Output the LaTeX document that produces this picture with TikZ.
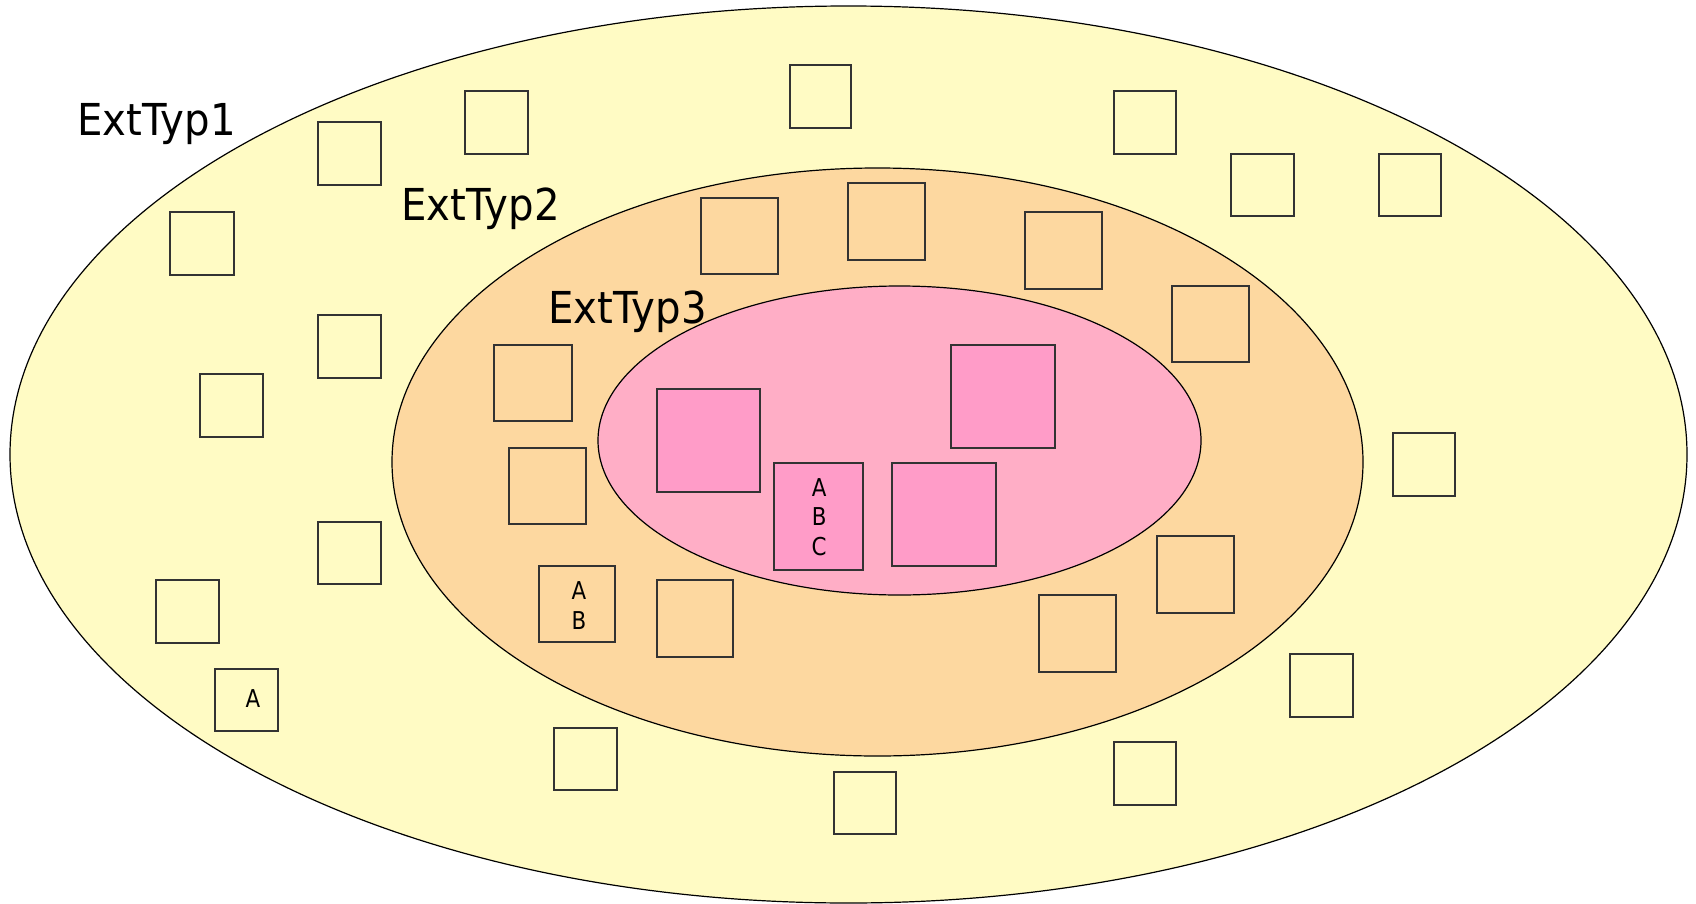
\documentclass[tikz,border=0pt]{standalone}
\usepackage{fontspec}
\setmainfont{DejaVu Sans}
\usetikzlibrary{shapes.geometric,fit}
\definecolor{ring1}{HTML}{FFFBC4}
\definecolor{ring2}{HTML}{FDD8A0}
\definecolor{ring3}{HTML}{FFAEC6}
\definecolor{pinkbox}{HTML}{FF9CC8}
\definecolor{boxline}{HTML}{333333}
\tikzset{
  zone/.style={ellipse, draw=black, line width=0.6pt, inner sep=0pt, outer sep=0pt},
  zonelabel/.style={anchor=base west, inner sep=0pt, font=\fontsize{22}{26}\selectfont},
  plainbox/.style={draw=boxline, line width=0.75pt, inner sep=0pt, outer sep=0pt},
  pinkfill/.style={plainbox, fill=pinkbox},
  boxtext/.style={inner sep=0pt, align=center, font=\fontsize{12.3}{14.75}\selectfont}
}
\newcommand{\sq}[1]{\scalebox{0.87}[1]{#1}}
\newcommand{\sqw}[1]{\scalebox{0.915}[1]{#1}}
\begin{document}
\begin{tikzpicture}[x=0.5pt, y=-0.5pt]
\useasboundingbox (0,0) rectangle (1696,904);
% zones
\node[zone, fill=ring1, minimum width=838.5pt, minimum height=448.5pt] (outer) at (848.5,454.5) {};
\node[zone, fill=ring2, minimum width=485.5pt, minimum height=294pt] (middle) at (877.5,462) {};
\node[zone, fill=ring3, minimum width=301.5pt, minimum height=154.5pt] (inner) at (899.5,440.5) {};
% labels
\node[zonelabel] (l1) at (77,135) {\sqw{ExtTyp1}};
\node[zonelabel] (l2) at (401,220) {\sqw{ExtTyp2}};
\node[zonelabel] (l3) at (548,323) {\sqw{ExtTyp3}};
% boxes
\node[plainbox, fit={(790,65) (851,128)}] (b1) {};
\node[plainbox, fit={(465,91) (528,154)}] (b2) {};
\node[plainbox, fit={(1114,91) (1176,154)}] (b3) {};
\node[plainbox, fit={(318,122) (381,185)}] (b4) {};
\node[plainbox, fit={(1231,154) (1294,216)}] (b5) {};
\node[plainbox, fit={(1379,154) (1441,216)}] (b6) {};
\node[plainbox, fit={(170,212) (234,275)}] (b7) {};
\node[plainbox, fit={(701,198) (778,274)}] (b8) {};
\node[plainbox, fit={(848,183) (925,260)}] (b9) {};
\node[plainbox, fit={(1025,212) (1102,289)}] (b10) {};
\node[plainbox, fit={(1172,286) (1249,362)}] (b11) {};
\node[plainbox, fit={(318,315) (381,378)}] (b12) {};
\node[plainbox, fit={(494,345) (572,421)}] (b13) {};
\node[plainbox, fit={(200,374) (263,437)}] (b14) {};
\node[pinkfill, fit={(657,389) (760,492)}] (b15) {};
\node[pinkfill, fit={(951,345) (1055,448)}] (b16) {};
\node[plainbox, fit={(1393,433) (1455,496)}] (b17) {};
\node[plainbox, fit={(509,448) (586,524)}] (b18) {};
\node[pinkfill, fit={(774,463) (863,570)}] (b19) {};
\node[pinkfill, fit={(892,463) (996,566)}] (b20) {};
\node[plainbox, fit={(318,522) (381,584)}] (b21) {};
\node[plainbox, fit={(1157,536) (1234,613)}] (b22) {};
\node[plainbox, fit={(539,566) (615,642)}] (b23) {};
\node[plainbox, fit={(156,580) (219,643)}] (b24) {};
\node[plainbox, fit={(657,580) (733,657)}] (b25) {};
\node[plainbox, fit={(1039,595) (1116,672)}] (b26) {};
\node[plainbox, fit={(215,669) (278,731)}] (b27) {};
\node[plainbox, fit={(1290,654) (1353,717)}] (b28) {};
\node[plainbox, fit={(554,728) (617,790)}] (b29) {};
\node[plainbox, fit={(1114,742) (1176,805)}] (b30) {};
\node[plainbox, fit={(834,772) (896,834)}] (b31) {};
% texts in boxes
\node[boxtext, yshift=-0.2pt, xshift=0.3pt] (t19) at (b19.center) {\sq{A}\\\sq{B}\\\sq{C}};
\node[boxtext, yshift=-0.75pt, xshift=1pt] (t23) at (b23.center) {\sq{A}\\\sq{B}};
\node[boxtext, yshift=0.6pt, xshift=3.2pt] (t27) at (b27.center) {\sq{A}};
\end{tikzpicture}
\end{document}
